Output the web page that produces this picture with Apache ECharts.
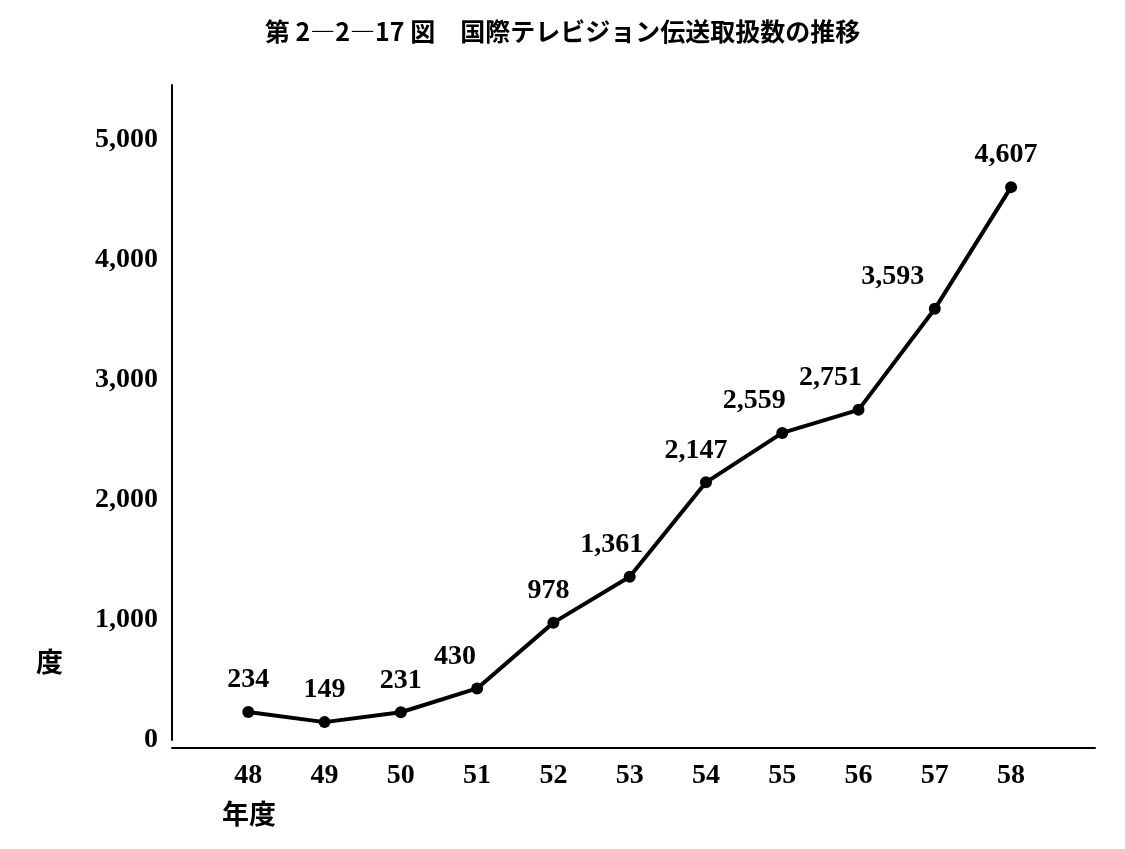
<!DOCTYPE html>
<html><head><meta charset="utf-8">
<script src="https://cdn.jsdelivr.net/npm/echarts@6/dist/echarts.min.js"></script>
<style>html,body{margin:0;background:#fff}#c{width:1125px;height:849px}</style>
</head><body><div id="c"></div>
<script>
const years = [48,49,50,51,52,53,54,55,56,57,58];
const values = [234,149,231,430,978,1361,2147,2559,2751,3593,4607];
const yTicks = [0,1000,2000,3000,4000,5000];
const labelShift = [0,0,0,-22,-5,-18,-10,-28,-28,-42,-5];
const F = '"Liberation Serif","Noto Sans CJK JP",serif';
const chart = echarts.init(document.getElementById('c'));
chart.setOption({
  backgroundColor:'#fff',
  title:{text:'第 2―2―17 図　国際テレビジョン伝送取扱数の推移',left:'center',top:14,
    textStyle:{fontFamily:'"Noto Sans CJK JP",sans-serif',fontSize:25,fontWeight:'bold',color:'#000'}},
  grid:{left:172,right:30,top:85,bottom:109},
  xAxis:{type:'value',min:47,max:59.1,interval:1,offset:8,
    axisLine:{onZero:false,lineStyle:{color:'#000',width:2}},axisTick:{show:false},splitLine:{show:false},
    axisLabel:{color:'#000',fontFamily:F,fontSize:28,fontWeight:'bold',margin:14,
      formatter:v=>years.includes(v)?String(v):''}},
  yAxis:{type:'value',min:0,max:5458,interval:1000,
    axisLine:{show:true,lineStyle:{color:'#000',width:2}},axisTick:{show:false},splitLine:{show:false},
    axisLabel:{color:'#000',fontFamily:F,fontSize:28,fontWeight:'bold',margin:14,
      formatter:v=>yTicks.includes(v)?v.toLocaleString('en-US'):''}},
  graphic:[
    {type:'text',left:222,top:800,style:{text:'年度',font:'bold 27px "Noto Sans CJK JP"',fill:'#000'}},
    {type:'text',left:36,top:648,style:{text:'度',font:'bold 27px "Noto Sans CJK JP"',fill:'#000'}}
  ],
  series:[{type:'line',data:years.map((y,i)=>({value:[y,values[i]],label:{offset:[labelShift[i],0]}})),
    symbol:'circle',symbolSize:12,lineStyle:{color:'#000',width:4},itemStyle:{color:'#000'},
    label:{show:true,position:'top',distance:12,color:'#000',fontFamily:F,fontSize:28,fontWeight:'bold',
      formatter:p=>p.value[1].toLocaleString('en-US')}}]
});
</script></body></html>
